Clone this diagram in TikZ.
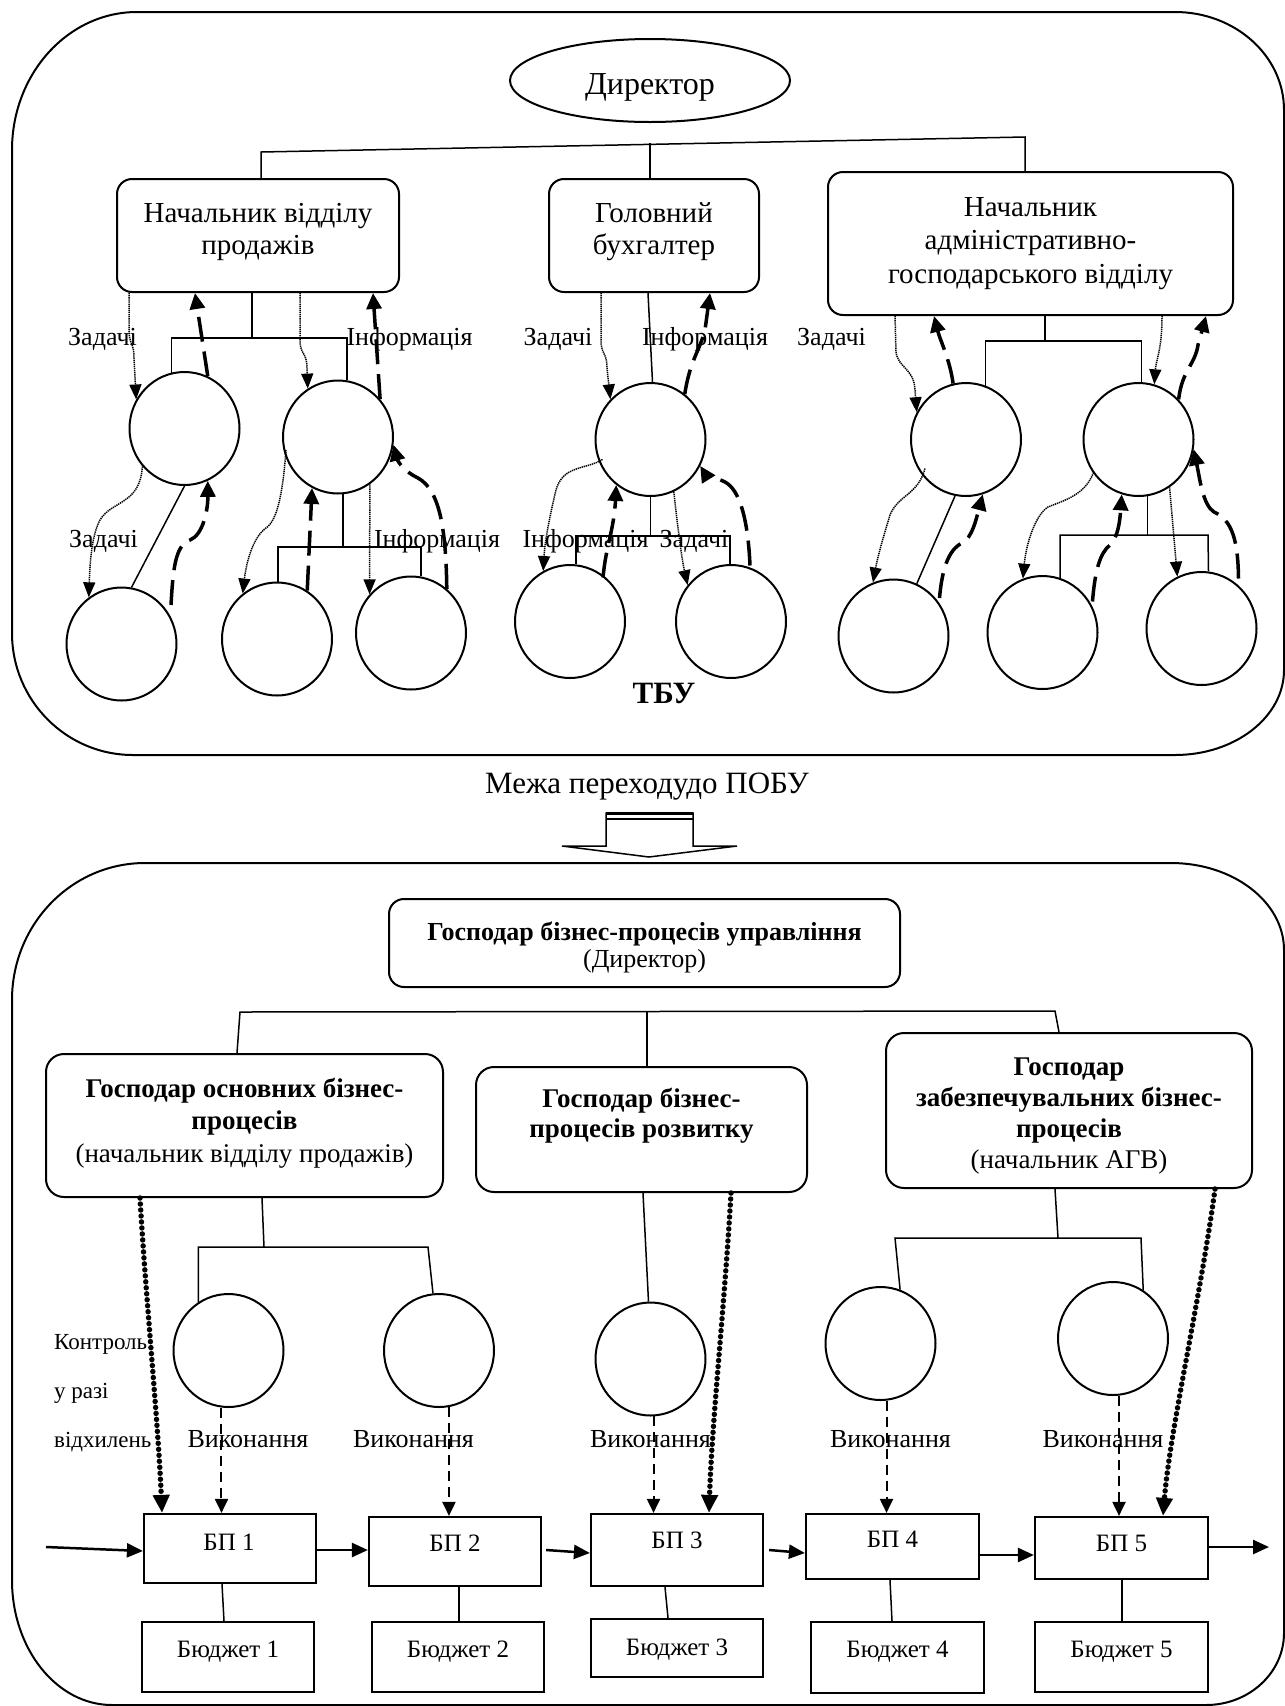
\documentclass[tikz,border=0pt]{standalone}
\usepackage{fontspec}
\setmainfont{Liberation Serif}
\usetikzlibrary{shapes.geometric,arrows.meta,calc}
\newcommand\myfs[2]{\fontsize{#1}{#2}\selectfont}
\newcommand\topln{\rule{0pt}{1em}}
\begin{document}
\begin{tikzpicture}[x=1pt,y=-1pt,
  frm/.style={line width=2pt},
  bx/.style={draw,line width=2pt,rounded corners=15pt,inner sep=0pt},
  sqb/.style={draw,line width=2.2pt,inner sep=0pt},
  circ/.style={draw,ellipse,line width=2pt,minimum width=110pt,minimum height=113pt,inner sep=0pt},
  orgl/.style={line width=1.5pt},
  taskarr/.style={line width=1.5pt,dash pattern=on 1.3pt off 0.8pt,-{Triangle[length=15pt,width=12pt]}},
  infoarr/.style={line width=3.5pt,dash pattern=on 25pt off 10pt,-{Triangle[length=16pt,width=15pt]}},
  ctrlarr/.style={line width=5.5pt,dash pattern=on 0pt off 6pt,line cap=round,-{Triangle[length=18pt,width=16pt]}},
  execarr/.style={line width=2pt,dash pattern=on 10pt off 6pt,-{Triangle[length=14pt,width=13pt]}},
  flowarr/.style={line width=2.5pt,-{Triangle[length=16pt,width=14pt]}},
  txt/.style={inner sep=0pt,align=center},
  lab/.style={txt,anchor=base,font=\myfs{26}{30}},
  boxtxt/.style={txt,anchor=north,font=\myfs{29}{32.5}},
  smalltxt/.style={txt,anchor=base,font=\myfs{25}{28}},
]
\useasboundingbox (0,0) rectangle (1285,1706);

% ---------- containers ----------
\draw[frm] (12,150) .. controls (12,73.8) and (68,12) .. (137,12) -- (1175,12)
  .. controls (1235.2,12) and (1284,55.9) .. (1284,110) -- (1284,670)
  .. controls (1284,717) and (1235.2,755) .. (1175,755) -- (133,755)
  .. controls (66.2,755) and (12,700.4) .. (12,633) -- cycle;
\draw[frm] (12,1000) .. controls (12,924.3) and (71.5,863) .. (145,863) -- (1171,863)
  .. controls (1233.4,863) and (1284,902) .. (1284,950) -- (1284,1633)
  .. controls (1284,1672.8) and (1249.1,1705) .. (1206,1705) -- (112,1705)
  .. controls (56.8,1705) and (12,1649) .. (12,1580) -- cycle;

% ---------- top part: nodes ----------
\node[draw,ellipse,line width=2pt,minimum width=280pt,minimum height=83pt,inner sep=0pt] (dir) at (650,80.5) {};
\node[txt,anchor=base,font=\myfs{32}{36}] (dirt) at (650,94) {Директор};

\node[bx,minimum width=282pt,minimum height=113pt] (box1) at (258,235.5) {};
\node[bx,minimum width=210pt,minimum height=113pt] (box2) at (654,235.5) {};
\node[bx,minimum width=405pt,minimum height=143pt] (box3) at (1030.5,243.5) {};
\node[boxtxt] (b1t) at (258,193) {\topln Начальник відділу\\продажів};
\node[boxtxt] (b2t) at (654,193) {\topln Головний\\бухгалтер};
\node[boxtxt,font=\myfs{29}{33.5}] (b3t) at (1030.5,187) {\topln Начальник\\адміністративно-\\господарського відділу};

\node[circ] (cA1) at (184.5,428.5) {};
\node[circ] (cA2) at (338,437) {};
\node[circ] (cA3) at (121.5,644) {};
\node[circ] (cA4) at (277,639) {};
\node[circ] (cA5) at (411,633) {};
\node[circ] (cB1) at (650.5,439.5) {};
\node[circ] (cB2) at (570,621.5) {};
\node[circ] (cB3) at (731,621.5) {};
\node[circ] (cC1) at (966,439.5) {};
\node[circ] (cC2) at (1138.5,439.5) {};
\node[circ] (cC3) at (893.5,636) {};
\node[circ] (cC4) at (1042.5,632.5) {};
\node[circ] (cC5) at (1201.5,628.5) {};

\node[lab] (l1) at (102.5,345) {Задачі};
\node[lab] (l2) at (409.5,345) {Інформація};
\node[lab] (l3) at (558,345) {Задачі};
\node[lab] (l4) at (705,345) {Інформація};
\node[lab] (l5) at (831.5,345) {Задачі};
\node[lab] (l6) at (103.5,547) {Задачі};
\node[lab] (l7) at (437,547) {Інформація};
\node[lab] (l8) at (585.5,547) {Інформація};
\node[lab] (l9) at (694,547) {Задачі};
\node[txt,anchor=base,font=\bfseries\myfs{31}{34}] (tbu) at (664,703) {ТБУ};

% ---------- top part: connectors ----------
\draw[orgl] (261,0|-box1.north) -- (261,152) -- (1025,137) -- (1025,0|-box3.north);
\draw[orgl] (650,143) -- (650,0|-box2.north);

% sales subtree
\draw[orgl] (252,0|-box1.south) -- (252,338);
\draw[orgl] (cA1.103) |- (cA2.81|-0,338) -- (cA2.81);
\draw[taskarr] (129,0|-box1.south) -- (129,330) .. controls (129,345) and (134,342) .. (134,358) -- (cA1.149);
\draw[infoarr] (cA1.66) -- (195,0|-box1.south);
\draw[taskarr] (300,0|-box1.south) -- (300,340) .. controls (300,355) and (307,352) .. (307,368) -- (cA2.122);
\draw[infoarr] (cA2.42) -- (373,0|-box1.south);
\draw[orgl] (cA1.south) -- (cA3.80);
\draw[taskarr] (cA1.222) .. controls (140,505) and (112,500) .. (100,520) .. controls (92,535) and (90,560) .. (cA3.125);
\draw[infoarr] ($(cA3)+(49.5,-39)$) .. controls (173,570) and (175,545) .. (190,540) .. controls (203,535) and (208,510) .. (cA1.-66);
\draw[orgl] (cA2.-85) -- (cA2.-85|-0,547);
\draw[orgl] (cA4.89) |- (cA5.80|-0,547) -- (cA5.80);
\draw[taskarr] ($(cA2)+(-52,13)$) .. controls (283,490) and (278,520) .. (266,528) .. controls (252,538) and (246,565) .. (cA4.127);
\draw[infoarr] (cA4.58) -- (cA2.243);
\draw[taskarr] (cA2.-56) -- (cA5.137);
\draw[infoarr] (cA5.51) .. controls (446,530) and (440,490) .. (418,478) .. controls (405,472) and (398,462) .. (cA2.-8);

% accountant subtree
\draw[orgl] (648,0|-box2.south) -- (cB1.88);
\draw[taskarr] (601,0|-box2.south) -- (601,340) .. controls (601,355) and (607,352) .. (607,368) -- (cB1.135);
\draw[infoarr] (cB1.53) .. controls (690,360) and (700,350) .. (705,330) -- (710,0|-box2.south);
\draw[orgl] (cB1.south) -- (cB1.south|-0,536);
\draw[orgl] (cB2.84) |- (cB3.91|-0,536) -- (cB3.91);
\draw[taskarr] ($(cB1)+(-48,20)$) .. controls (585,470) and (563,465) .. (556,490) .. controls (550,515) and (545,540) .. (cB2.118);
\draw[infoarr] ($(cB2)+(33,-44)$) .. controls (606,545) and (614,530) .. (cB1.233);
\draw[taskarr] (cB1.-66) .. controls (678,530) and (682,560) .. (cB3.140);
\draw[infoarr] ($(cB3)+(19,-56)$) .. controls (748,520) and (740,490) .. (725,482) .. controls (712,476) and (704,472) .. (cB1.-28);

% admin subtree
\draw[taskarr] (895,0|-box3.south) -- (896,352) .. controls (898,368) and (914,368) .. (915,390) -- (cC1.151);
\draw[infoarr] (cC1.103) .. controls (950,360) and (940,340) .. (934,0|-box3.south);
\draw[orgl] (1045,0|-box3.south) -- (1045,341);
\draw[orgl] (cC1.70) |- (cC2.87|-0,341) -- (cC2.87);
\draw[taskarr] (1162,0|-box3.south) .. controls (1162,350) and (1156,360) .. (cC2.74);
\draw[infoarr] (cC2.45) .. controls (1182,370) and (1195,365) .. (1198,345) -- (1206,0|-box3.south);
\draw[orgl] (cC1.-101) -- (cC3.66);
\draw[taskarr] ($(cC1)+(-41,29)$) .. controls (918,495) and (898,495) .. (890,515) .. controls (884,535) and (878,555) .. (cC3.111);
\draw[infoarr] ($(cC3)+(46,-38)$) .. controls (942,570) and (948,550) .. (962,543) .. controls (972,538) and (976,520) .. (cC1.-73);
\draw[orgl] (cC2.-81) -- (cC2.-81|-0,535);
\draw[orgl] (cC4.72) |- (1208,535) -- (cC5.83);
\draw[taskarr] ($(cC2)+(-45,33)$) .. controls (1085,495) and (1065,500) .. (1048,507) .. controls (1035,515) and (1026,545) .. (cC4.110);
\draw[infoarr] ($(cC4)+(50,-31)$) .. controls (1095,570) and (1100,553) .. (1110,545) .. controls (1118,538) and (1120,520) .. (cC2.-107);
\draw[taskarr] (cC2.-57) -- (cC5.115);
\draw[infoarr] ($(cC5)+(37,-50)$) .. controls (1238,540) and (1232,520) .. (1214,512) .. controls (1203,505) and (1200,480) .. (cC2.-10);

% ---------- transition ----------
\node[txt,anchor=base,font=\myfs{31}{34}] (mezha) at (647,793) {Межа переходудо ПОБУ};
\draw[line width=1.5pt,line join=miter] (606,813) -- (606,846) -- (562,846) -- (649,857) -- (737,846) -- (693,846) -- (693,813) -- cycle;
\draw[line width=3pt] (606,813) -- (693,813);
\draw[line width=1.2pt] (606,819) -- (693,819);

% ---------- bottom part: nodes ----------
\node[bx,minimum width=511pt,minimum height=88pt] (boxT) at (644.5,943) {};
\node[bx,rounded corners=18pt,minimum width=397pt,minimum height=143pt] (boxL) at (244.5,1125.5) {};
\node[bx,rounded corners=18pt,minimum width=331pt,minimum height=125pt] (boxM) at (641.5,1129.5) {};
\node[bx,rounded corners=18pt,minimum width=366pt,minimum height=155pt] (boxR) at (1069,1110.5) {};
\node[txt,anchor=north,font=\myfs{26}{27}] (btT) at (644.5,914) {\topln\textbf{Господар бізнес-процесів управління}\\(Директор)};
\node[txt,anchor=north,font=\myfs{27}{32.5}] (btL) at (244.5,1070) {\topln\textbf{Господар основних бізнес-}\\\textbf{процесів}\\(начальник відділу продажів)};
\node[txt,anchor=north,font=\myfs{27}{30}] (btM) at (641.5,1080) {\topln\textbf{Господар бізнес-}\\\textbf{процесів розвитку}};
\node[txt,anchor=north,font=\myfs{27}{31}] (btR) at (1069,1048) {\topln\textbf{Господар}\\\textbf{забезпечувальних бізнес-}\\\textbf{процесів}\\(начальник АГВ)};

\node[circ] (cD1) at (228.5,1350.5) {};
\node[circ] (cD2) at (439,1350.5) {};
\node[circ] (cD3) at (650.5,1359) {};
\node[circ] (cD4) at (880.5,1343.5) {};
\node[circ] (cD5) at (1113,1338.5) {};

\node[txt,anchor=north west,align=left,font=\myfs{23}{49}] (ctl) at (54,1326) {\topln Контроль\\у разі\\відхилень};
\node[lab] (v1) at (248,1447) {Виконання};
\node[lab] (v2) at (413.5,1447) {Виконання};
\node[lab] (v3) at (650.5,1447) {Виконання};
\node[lab] (v4) at (890.5,1447) {Виконання};
\node[lab] (v5) at (1103,1447) {Виконання};

\node[sqb,minimum width=172pt,minimum height=69pt] (bp1) at (230,1548.5) {};
\node[sqb,minimum width=172pt,minimum height=69pt] (bp2) at (455,1551.5) {};
\node[sqb,minimum width=172pt,minimum height=72pt] (bp3) at (677,1550) {};
\node[sqb,minimum width=173pt,minimum height=65pt] (bp4) at (892.5,1546.5) {};
\node[sqb,minimum width=173pt,minimum height=62pt] (bp5) at (1121.5,1548) {};
\node[smalltxt] (bp1t) at (229,1550) {БП 1};
\node[smalltxt] (bp2t) at (455,1551.5) {БП 2};
\node[smalltxt] (bp3t) at (677,1548) {БП 3};
\node[smalltxt] (bp4t) at (892.5,1547) {БП 4};
\node[smalltxt] (bp5t) at (1121.5,1551) {БП 5};

\node[sqb,minimum width=172pt,minimum height=70pt] (bud1) at (228,1657) {};
\node[sqb,minimum width=172pt,minimum height=70pt] (bud2) at (458,1657) {};
\node[sqb,minimum width=172pt,minimum height=58pt] (bud3) at (677,1648) {};
\node[sqb,minimum width=173pt,minimum height=71pt] (bud4) at (897.5,1657.5) {};
\node[sqb,minimum width=173pt,minimum height=70pt] (bud5) at (1121.5,1657) {};
\node[smalltxt] (bud1t) at (228,1657) {Бюджет 1};
\node[smalltxt] (bud2t) at (458,1657) {Бюджет 2};
\node[smalltxt] (bud3t) at (677,1655) {Бюджет 3};
\node[smalltxt] (bud4t) at (897.5,1657) {Бюджет 4};
\node[smalltxt] (bud5t) at (1121.5,1657) {Бюджет 5};

\coordinate (inflow) at (46,1547);
\coordinate (outflow) at (1269,1547);

% ---------- bottom part: connectors ----------
\draw[orgl] (237,0|-boxL.north) -- (240,1012) -- (1055,1011) -- (1059,0|-boxR.north);
\draw[orgl] (647,1012) -- (647,0|-boxM.north);

\draw[orgl] (262,0|-boxL.south) -- (264,1247);
\draw[orgl] (cD1.122) |- (428,1247) -- (cD2.96);
\draw[orgl] (643,0|-boxM.south) -- (cD3.92);
\draw[orgl] (1055,0|-boxR.south) -- (1058,1238);
\draw[orgl] (cD4.70) -- (895,1238) -- (1141,1238) -- (cD5.58);

\draw[ctrlarr] (140,0|-boxL.south) .. controls (146,1300) and (158,1420) .. (162,0|-bp1.north);
\draw[ctrlarr] (731,0|-boxM.south) .. controls (725,1300) and (712,1420) .. (709,0|-bp3.north);
\draw[ctrlarr] (1215,0|-boxR.south) .. controls (1200,1300) and (1170,1430) .. (1163,0|-bp5.north);

\draw[execarr] (cD1.-97) -- (cD1.-97|-bp1.north);
\draw[execarr] (cD2.-80) -- (cD2.-80|-bp2.north);
\draw[execarr] (cD3.-87) -- (cD3.-87|-bp3.north);
\draw[execarr] (cD4.-84) -- (cD4.-84|-bp4.north);
\draw[execarr] (cD5.-84) -- (cD5.-84|-bp5.north);

\draw[flowarr] (inflow) -- (bp1.west|-0,1551);
\draw[flowarr] (bp1.east|-0,1550) -- (bp2.west|-0,1550);
\draw[flowarr] ($(bp2.east|-0,1550)+(4,0)$) -- (bp3.west|-0,1553);
\draw[flowarr] ($(bp3.east|-0,1550)+(5,0)$) -- (bp4.west|-0,1553);
\draw[flowarr] (bp4.east|-0,1555) -- (bp5.west|-0,1555);
\draw[flowarr] (bp5.east|-0,1547) -- (outflow);

\draw[orgl] (222,0|-bp1.south) -- (224,0|-bud1.north);
\draw[orgl] (459,0|-bp2.south) -- (459,0|-bud2.north);
\draw[orgl] (665,0|-bp3.south) -- (668,0|-bud3.north);
\draw[orgl] (890,0|-bp4.south) -- (892,0|-bud4.north);
\draw[orgl] (1122,0|-bp5.south) -- (1122,0|-bud5.north);
\end{tikzpicture}
\end{document}
